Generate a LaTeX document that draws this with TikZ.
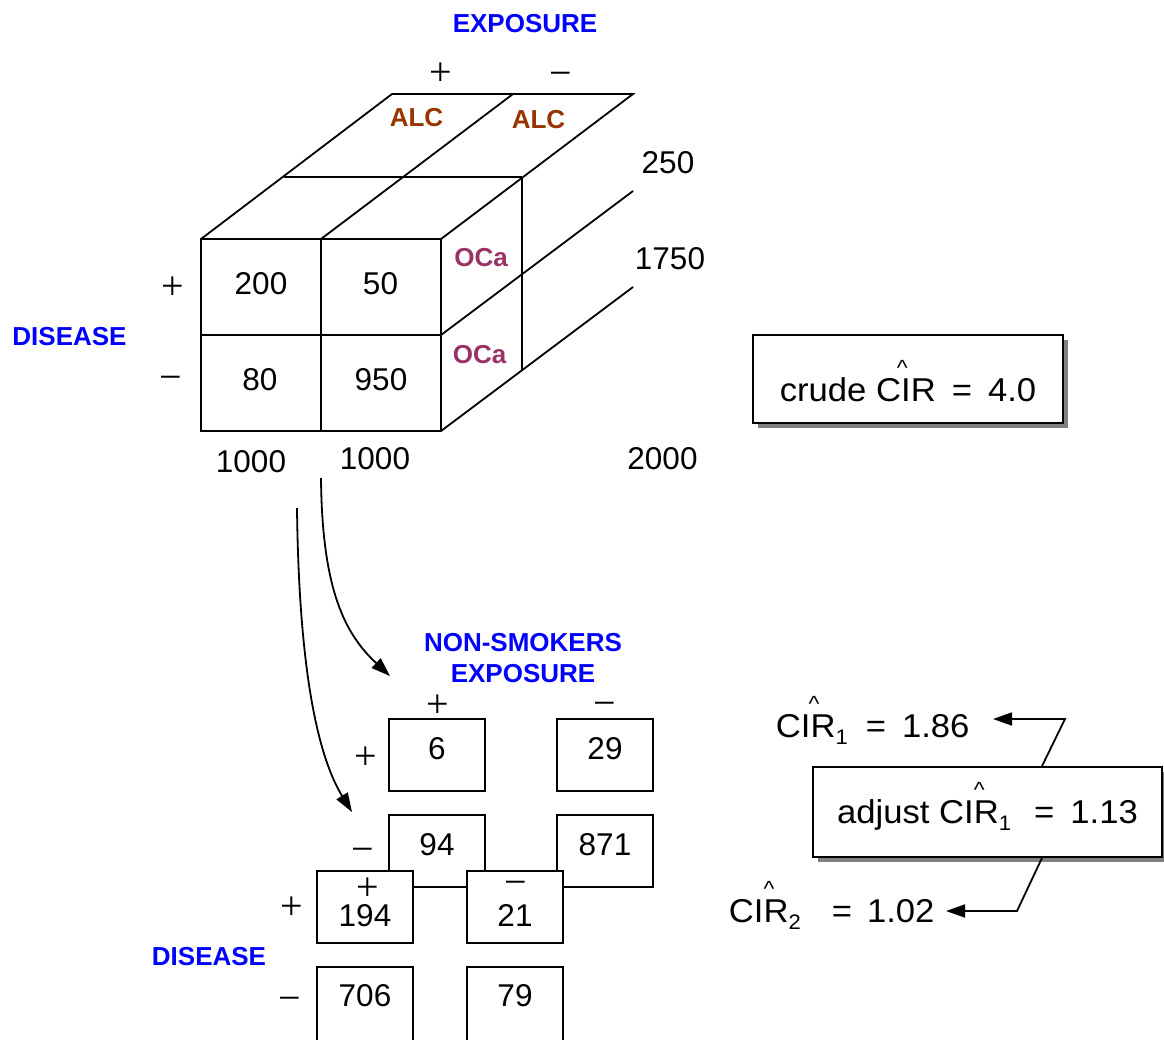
\documentclass[tikz,border=0pt]{standalone}
\usepackage{fontspec}
\setmainfont{Liberation Sans}
\newfontfamily\eqfont{Liberation Sans}[FakeStretch=1.05]
\newfontfamily\signfont{Liberation Serif}
\usetikzlibrary{arrows.meta,shadows}

\definecolor{labelblue}{RGB}{0,0,255}
\definecolor{alcbrown}{RGB}{153,51,0}
\definecolor{ocapurple}{RGB}{153,51,102}

% estimate hat; the optional argument moves it sideways from the I/R junction
\newcommand\esthat[1][8pt]{\makebox[0pt][c]{\hspace{#1}\raisebox{26pt}{\fontsize{22}{22}\selectfont\textasciicircum}}}
\newcommand\cir[1][8pt]{CI\esthat[#1]R}
\newcommand\subidx[1]{\raisebox{-7pt}{\fontsize{21}{21}\selectfont #1}}

\begin{document}
\begin{tikzpicture}[x=1pt, y=-1pt, line width=1.8pt,
  every node/.style={inner sep=0pt},
  num/.style={font=\fontsize{31.5}{36}\selectfont},
  sgn/.style={font=\signfont\fontsize{40}{40}\selectfont, anchor=base},
  hdr/.style={font=\bfseries\fontsize{26}{31}\selectfont, text=labelblue, align=center},
  alc/.style={font=\bfseries\fontsize{26}{31}\selectfont, text=alcbrown},
  oca/.style={font=\bfseries\fontsize{26}{31}\selectfont, text=ocapurple},
  cell/.style={draw, fill=white, minimum width=96pt, minimum height=72pt, num},
  celltop/.style={cell, text height=22pt, text depth=14pt},
  cellmid/.style={cell, text height=38.6pt, text depth=0pt},
  cellbot/.style={cell, minimum height=100pt, text height=22pt, text depth=43.4pt},
  eq/.style={font=\eqfont\fontsize{33}{38}\selectfont, anchor=base west},
  result/.style={draw, fill=white, font=\eqfont\fontsize{33}{38}\selectfont,
    drop shadow={shadow xshift=5pt, shadow yshift=-5pt, fill=black!50, opacity=1}},
  arr/.style={-{Triangle[length=19pt,width=13pt]}}]

\useasboundingbox (0,0) rectangle (1164,1039);

% ---------- three-way table drawn as a box ----------
\draw (201,239) rectangle (441,431);
\draw (321,239) -- (321,431);
\draw (201,335) -- (441,335);
\draw (201,239) -- (392,94) -- (633,94) -- (441,239);
\draw (321,239) -- (513,94);
\draw (284,177) -- (522,177);
\draw (522,177) -- (522,370);
\draw (441,335) -- (633,191);
\draw (441,431) -- (633,287);

\node[hdr] (expo) at (525,24) {EXPOSURE};
\node[sgn] (ep) at (441,85.5) {+};
\node[sgn] (em) at (561,86) {−};
\node[alc] (alc1) at (416.5,118) {ALC};
\node[alc] (alc2) at (538.5,120) {ALC};
\node[num] (n250) at (668,163) {250};
\node[num] (n1750) at (670,259) {1750};
\node[oca] (oca1) at (481,258) {OCa};
\node[oca] (oca2) at (479.5,355) {OCa};
\node[num] (a) at (261,283.5) {200};
\node[num] (b) at (380.5,283.5) {50};
\node[num] (c) at (260,380) {80};
\node[num] (d) at (381,380) {950};
\node[sgn] (dp) at (173,299) {+};
\node[sgn] (dm) at (171,390) {−};
\node[hdr] (dis) at (69.5,336.5) {DISEASE};
\node[num] (t1) at (251,461.5) {1000};
\node[num] (t2) at (375,458.5) {1000};
\node[num] (t3) at (662.5,458.5) {2000};

% ---------- crude estimate ----------
\node[result, minimum width=310pt, minimum height=88pt, text height=44pt, text depth=0pt]
  (crude) at (908,379) {crude \cir[-17pt]\hspace{16pt}=\hspace{16pt}4.0};

% ---------- stratified tables ----------
\node[hdr] (ns) at (523,658.5) {NON-SMOKERS\\EXPOSURE};
\node[sgn] (np) at (438,717) {+};
\node[sgn] (nm) at (605,716) {−};

\node[celltop] (c6)   at (437,755) {6};
\node[celltop] (c29)  at (605,755) {29};
\node[celltop] (c94)  at (437,851) {94};
\node[celltop] (c871) at (605,851) {871};
\node[sgn] (rp1) at (366,769) {+};
\node[sgn] (rm1) at (363,862) {−};

\node[cellmid] (c194) at (365,907) {194};
\node[cellmid] (c21)  at (515,907) {21};
\node[cellbot] (c706) at (365,1017) {706};
\node[cellbot] (c79)  at (515,1017) {79};
\node[sgn] (sp) at (368,900) {+};
\node[sgn] (sm) at (515.5,895) {−};
\node[sgn] (rp2) at (292,919) {+};
\node[sgn] (rm2) at (289.5,1011) {−};
\node[hdr] (dis2) at (209,956.5) {DISEASE};

% ---------- arrows from the pooled table to the strata ----------
\coordinate (s1) at (321,478);
\coordinate (e1) at (390,676);
\coordinate (s2) at (297,508);
\coordinate (e2) at (352,812);
\draw[arr] (s1) .. controls (322,590) and (345,634) .. (e1);
\draw[arr] (s2) .. controls (299,680) and (320,760) .. (e2);

% ---------- stratum-specific and adjusted estimates ----------
\node[eq] (cir1) at (775,737) {\cir[7pt]\subidx{1}\hspace{18pt}=\hspace{16pt}1.86};
\node[eq] (cir2) at (728,922) {\cir[11pt]\subidx{2}\hspace{31pt}=\hspace{15pt}1.02};
\node[result, minimum width=349pt, minimum height=90pt, text height=30pt, text depth=8pt]
  (adj) at (987.5,812) {adjust \cir[11pt]\subidx{1}\hspace{23pt}=\hspace{16pt}1.13};

\coordinate (k1) at (1065,719);
\coordinate (h1) at (993,719);
\coordinate (k2) at (1017,911);
\coordinate (h2) at (946,911);
\draw[arr] ([xshift=54.5pt]adj.north) -- (k1) -- (h1);
\draw[arr] ([xshift=54.5pt]adj.south) -- (k2) -- (h2);
\end{tikzpicture}
\end{document}
